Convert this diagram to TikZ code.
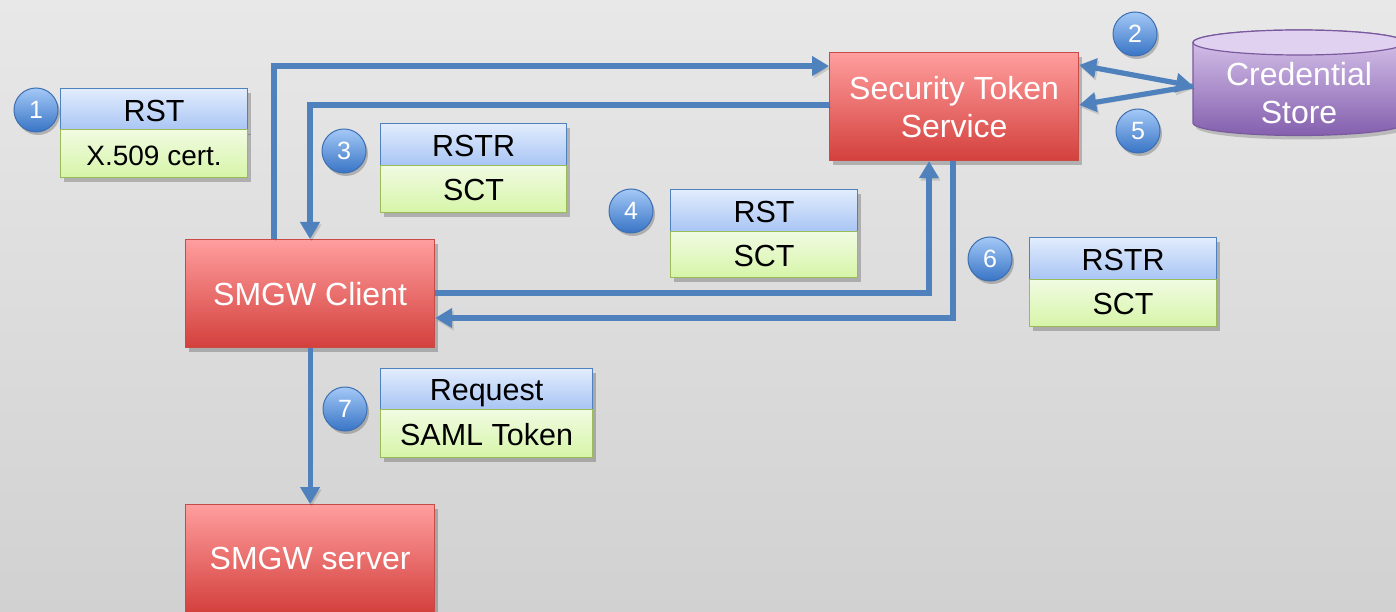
\documentclass[tikz,border=0pt]{standalone}
\usepackage{fontspec}
\setmainfont{Liberation Sans}
\usetikzlibrary{arrows.meta,shadows,calc}
\definecolor{bgtop}{HTML}{E8E8E8}
\definecolor{bgbot}{HTML}{D1D1D1}
\definecolor{redtop}{HTML}{FF9E9E}
\definecolor{redbot}{HTML}{D3403C}
\definecolor{redline}{HTML}{C84B47}
\definecolor{hdrtop}{HTML}{E2ECFD}
\definecolor{hdrbot}{HTML}{A8C5F4}
\definecolor{hdrline}{HTML}{4F81BD}
\definecolor{grntop}{HTML}{F1FBE2}
\definecolor{grnbot}{HTML}{D6F5A8}
\definecolor{grnline}{HTML}{9BBB59}
\definecolor{bubtop}{HTML}{A4C9F7}
\definecolor{bubbot}{HTML}{3874C5}
\definecolor{bubline}{HTML}{3D6FB1}
\definecolor{purtop}{HTML}{DCC9EE}
\definecolor{purbot}{HTML}{8460AE}
\definecolor{purline}{HTML}{7A5A9E}
\definecolor{connblue}{HTML}{4F81BD}
\tikzset{
  boxshadow/.style={drop shadow={shadow xshift=3pt,shadow yshift=-4pt,opacity=0.22,fill=black}},
  redbox/.style={rectangle,anchor=north west,inner sep=0pt,minimum width=249pt,minimum height=108pt,
    top color=redtop,bottom color=redbot,draw=redline,line width=1.2pt,text=white,
    font=\fontsize{32}{38}\selectfont,align=center,boxshadow},
  hdr/.style={rectangle,anchor=north west,inner sep=0pt,minimum height=42pt,
    text height=23pt,text depth=0pt,
    top color=hdrtop,bottom color=hdrbot,draw=hdrline,line width=1.2pt,text=black,
    font=\fontsize{30.5}{35}\selectfont,boxshadow},
  body/.style={rectangle,anchor=north west,inner sep=0pt,minimum height=47pt,
    text height=23pt,text depth=0pt,
    top color=grntop,bottom color=grnbot,draw=grnline,line width=1.2pt,text=black,
    font=\fontsize{30.5}{35}\selectfont,boxshadow},
  bubble/.style={circle,inner sep=0pt,minimum size=44pt,top color=bubtop,bottom color=bubbot,
    draw=bubline,line width=1pt,text=white,font=\fontsize{25}{30}\selectfont,
    drop shadow={shadow xshift=2pt,shadow yshift=-3pt,opacity=0.22,fill=black}},
  cshadow/.style={preaction={draw=black,opacity=0.13,transform canvas={shift={(1.5pt,-2.5pt)}}}},
  conn/.style={draw=connblue,line width=5.2pt,cshadow,-{Triangle[length=17pt,width=19pt]}},
  conn2/.style={draw=connblue,line width=5.2pt,cshadow,{Triangle[length=17pt,width=19pt]}-{Triangle[length=17pt,width=19pt]}},
}
\begin{document}
\begin{tikzpicture}[x=1pt,y=-1pt]
\clip (0,0) rectangle (1396,612);
\useasboundingbox (0,0) rectangle (1396,612);
\shade[top color=bgtop,bottom color=bgbot] (0,0) rectangle (1396,612);

% main boxes
\node[redbox] (sts) at (829,52) {Security Token\\Service};
\node[redbox] (client) at (185,239) {SMGW Client};
\node[redbox] (server) at (185,504) {SMGW server};

% credential store cylinder
\fill[black,opacity=0.18] (1196,46) -- (1196,127) arc[start angle=180,end angle=360,x radius=106pt,y radius=12.5pt] -- (1408,46) -- cycle;
\shade[top color=purtop,bottom color=purbot,draw=purline,line width=1.2pt]
  (1193,42.5) -- (1193,123) arc[start angle=180,end angle=360,x radius=106pt,y radius=12.5pt]
  -- (1405,42.5) arc[start angle=0,end angle=180,x radius=106pt,y radius=12.5pt] -- cycle;
\draw[purline,line width=1.2pt,fill=purtop!85!white] (1299,42.5) ellipse[x radius=106pt,y radius=12.5pt];
\node[text=white,font=\fontsize{32}{38}\selectfont,align=center] (cs) at (1299,93) {Credential\\Store};
\coordinate (csw) at (1193,86);

% message boxes
\node[hdr,minimum width=187pt] (h1) at (60,88) {RST};
\node[body,minimum width=187pt,minimum height=48pt,font=\fontsize{28}{33}\selectfont] (b1) at (60,129) {X.509 cert.};
\node[hdr,minimum width=186pt] (h3) at (380,123) {RSTR};
\node[body,minimum width=186pt] (b3) at (380,165) {SCT};
\node[hdr,minimum width=187pt] (h4) at (670,189) {RST};
\node[body,minimum width=187pt,minimum height=46pt] (b4) at (670,231) {SCT};
\node[hdr,minimum width=187pt] (h6) at (1029,237) {RSTR};
\node[body,minimum width=187pt] (b6) at (1029,279) {SCT};
\node[hdr,minimum width=212pt,minimum height=41pt] (h7) at (380,368) {Request};
\node[body,minimum width=212pt,minimum height=48pt] (b7) at (380,409) {SAML Token};

% connectors
\draw[conn] ([xshift=89pt]client.north west) |- ([yshift=-14pt]sts.north west);
\draw[conn] ([yshift=-53pt]sts.north west) -| ([xshift=125pt]client.north west);
\draw[conn] ([yshift=-54pt]client.north east) -| ([xshift=100pt]sts.south west);
\draw[conn] ([xshift=124pt]sts.south west) |- ([yshift=-79pt]client.north east);
\draw[conn] (client.south) -- (server.north);
\draw[conn2] ([yshift=-13pt]sts.north east) -- (csw);
\draw[conn] (csw) -- ([yshift=-53pt]sts.north east);

% numbered bubbles
\node[bubble] (n1) at (36,110) {1};
\node[bubble] (n2) at (1135,34) {2};
\node[bubble] (n3) at (344,151) {3};
\node[bubble] (n4) at (631,211) {4};
\node[bubble] (n5) at (1138,131) {5};
\node[bubble] (n6) at (990,259) {6};
\node[bubble] (n7) at (345,409) {7};
\end{tikzpicture}
\end{document}
